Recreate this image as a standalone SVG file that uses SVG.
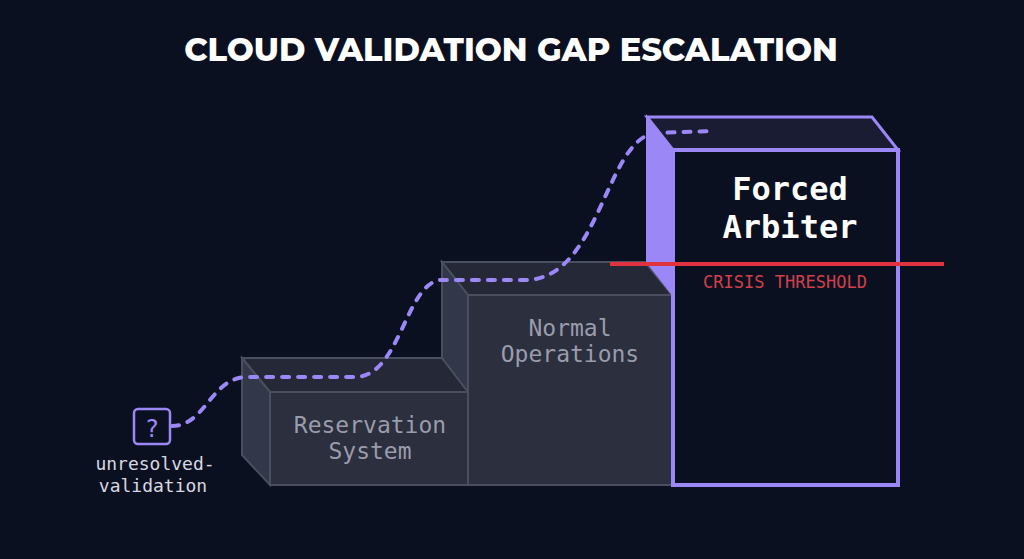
<svg xmlns="http://www.w3.org/2000/svg" width="1024" height="559" viewBox="0 0 1024 559">
<style>
.mono{font-family:"DejaVu Sans Mono","Liberation Mono",monospace}
.step{fill:#2b2f3e;stroke:#4a4e5e;stroke-width:2}
.top{fill:#252837;stroke:#4a4e5e;stroke-width:2}
.side{fill:#33374a;stroke:#4a4e5e;stroke-width:2}
.lbl{fill:#9a9cab;font-size:23px;text-anchor:middle}
</style>
<rect width="1024" height="559" fill="#0b1020"/>
<text x="511" y="61" text-anchor="middle" font-family="Montserrat,'Open Sans','Liberation Sans',sans-serif" font-weight="800" font-size="32" fill="#fff">CLOUD VALIDATION GAP ESCALATION</text>
<g id="reservation">
<polygon class="top" points="242,358 442,358 470,392 270,392"/>
<polygon class="side" points="242,358 270,392 270,485 242,455"/>
<rect class="step" x="270" y="392" width="200" height="93"/>
<text class="mono lbl" x="370" y="433">Reservation</text>
<text class="mono lbl" x="370" y="459">System</text>
</g>
<g id="normal">
<polygon class="top" points="442,262 645,262 672,295 468,295"/>
<polygon class="side" points="442,262 468,295 468,392 442,358"/>
<rect class="step" x="468" y="295" width="204" height="190"/>
<text class="mono lbl" x="570" y="336">Normal</text>
<text class="mono lbl" x="570" y="362">Operations</text>
</g>
<g id="arbiter">
<polygon points="647,117 872,117 898,150 673,150" fill="#1a1c33" stroke="#9b87f5" stroke-width="3"/>
<polygon points="647,117 673,150 673,295 647,262" fill="#9b87f5" stroke="#9b87f5" stroke-width="2"/>
<rect x="673" y="150" width="225" height="335" fill="#0b1020" stroke="#9b87f5" stroke-width="4"/>
<text class="mono" x="790" y="200" text-anchor="middle" font-size="32" font-weight="bold" fill="#fff">Forced</text>
<text class="mono" x="790" y="238" text-anchor="middle" font-size="32" font-weight="bold" fill="#fff">Arbiter</text>
</g>
<g id="threshold">
<line x1="610" y1="264" x2="944" y2="264" stroke="#e0323f" stroke-width="4"/>
<text class="mono" x="785" y="288" text-anchor="middle" font-size="17" fill="#d0404a">CRISIS THRESHOLD</text>
</g>
<g id="unresolved">
<rect x="134" y="409" width="36" height="35" rx="4" fill="none" stroke="#9b87f5" stroke-width="2.5"/>
<text class="mono" x="152" y="437" text-anchor="middle" font-size="24" fill="#9b87f5">?</text>
<text class="mono" x="155" y="470" text-anchor="middle" font-size="18" fill="#d8d8e0">unresolved-</text>
<text class="mono" x="153" y="492" text-anchor="middle" font-size="18" fill="#d8d8e0">validation</text>
</g>
<g id="connectors">
<path d="M172,426 C205,426 210,380 245,377 L355,377 C400,377 405,285 440,280 L525,280 C600,280 605,140 655,133 L712,131" fill="none" stroke="#9b87f5" stroke-width="4" stroke-linecap="round" stroke-dasharray="7 9"/>
</g>
</svg>
